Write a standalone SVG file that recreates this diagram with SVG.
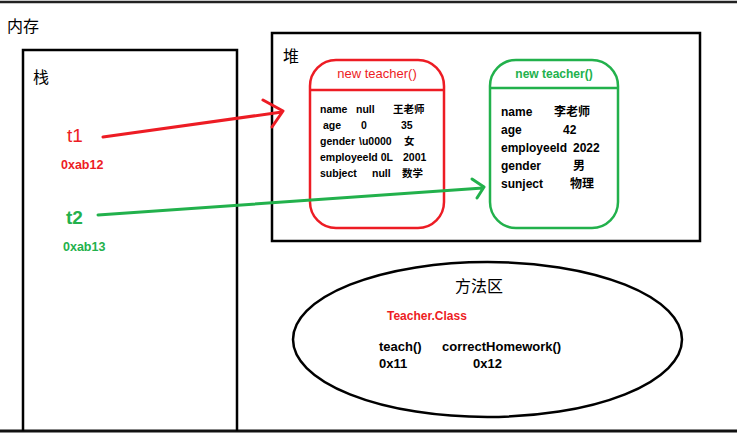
<svg xmlns="http://www.w3.org/2000/svg" width="737" height="433" viewBox="0 0 737 433">
<style>
text{font-family:"Liberation Sans","Noto Sans CJK SC",sans-serif;}
.cjk{font-family:"Noto Sans CJK SC",sans-serif;font-size:16px;fill:#000;}
.box{fill:none;stroke:#000;stroke-width:2.5;}
.r{fill:#ED1C24;}
.g{fill:#22B14C;}
.b{font-weight:bold;}
.f1{font-size:10.5px;font-weight:bold;fill:#000;}
.f2{font-size:12px;font-weight:bold;fill:#000;}
</style>
<rect width="737" height="433" fill="#fff"/>
<g id="frame">
<line x1="0" y1="2" x2="737" y2="2" stroke="#222" stroke-width="2.5"/>
<line x1="0" y1="431" x2="737" y2="431" stroke="#111" stroke-width="3"/>
<text class="cjk" x="7" y="32">内存</text>
</g>
<g id="stack">
<path class="box" d="M23,431 V50 H237 V431"/>
<text class="cjk" x="33" y="83">栈</text>
<text class="r" x="67" y="142" font-size="19">t1</text>
<text class="r b" x="61" y="169" font-size="12.5">0xab12</text>
<text class="g b" x="66" y="224" font-size="19">t2</text>
<text class="g b" x="63" y="251" font-size="12.5">0xab13</text>
</g>
<g id="heap">
<rect class="box" x="272" y="33" width="428" height="208"/>
<text class="cjk" x="283" y="62">堆</text>
</g>
<g id="obj1">
<rect x="310" y="60" width="134" height="168" rx="26" ry="26" fill="none" stroke="#ED1C24" stroke-width="2.5"/>
<line x1="310" y1="90" x2="444" y2="90" stroke="#ED1C24" stroke-width="2.5"/>
<text class="r" x="377" y="78" font-size="13" text-anchor="middle">new teacher()</text>
<g class="f1">
<text x="320" y="113">name</text><text x="356" y="113">null</text><text x="393" y="113">王老师</text>
<text x="323" y="129">age</text><text x="361" y="129">0</text><text x="401" y="129">35</text>
<text x="320" y="145">gender</text><text x="359" y="145">\u0000</text><text x="404" y="145">女</text>
<text x="320" y="161">employeeId 0L</text><text x="403" y="161">2001</text>
<text x="320" y="177">subject</text><text x="372" y="177">null</text><text x="402" y="177">数学</text>
</g>
</g>
<g id="obj2">
<rect x="490" y="60" width="128" height="168" rx="26" ry="26" fill="none" stroke="#22B14C" stroke-width="2.5"/>
<line x1="490" y1="88" x2="618" y2="88" stroke="#22B14C" stroke-width="2.5"/>
<text class="g b" x="554" y="78" font-size="12" text-anchor="middle">new teacher()</text>
<g class="f2">
<text x="501" y="116">name</text><text x="554" y="116">李老师</text>
<text x="501" y="134">age</text><text x="563" y="134">42</text>
<text x="501" y="152">employeeId</text><text x="573" y="152">2022</text>
<text x="501" y="170">gender</text><text x="573" y="170">男</text>
<text x="501" y="188">sunject</text><text x="570" y="188">物理</text>
</g>
</g>
<g id="method">
<ellipse cx="487.5" cy="339.5" rx="194.5" ry="77.5" fill="none" stroke="#000" stroke-width="2.5"/>
<text class="cjk" x="455" y="292">方法区</text>
<text class="r b" x="387" y="320" font-size="12">Teacher.Class</text>
<g class="f2" style="font-size:13px">
<text x="379" y="351">teach()</text><text x="442" y="351">correctHomework()</text>
<text x="379" y="368">0x11</text><text x="473" y="368">0x12</text>
</g>
</g>
<g id="connectors" fill="none" stroke-linecap="round" stroke-linejoin="round" stroke-width="3">
<path d="M103,137 L282,112 M263,100 L283,111 L272,127" stroke="#ED1C24"/>
<path d="M98,215 L483,188 M472,179 L484,187 L477,198" stroke="#22B14C"/>
</g>
</svg>
